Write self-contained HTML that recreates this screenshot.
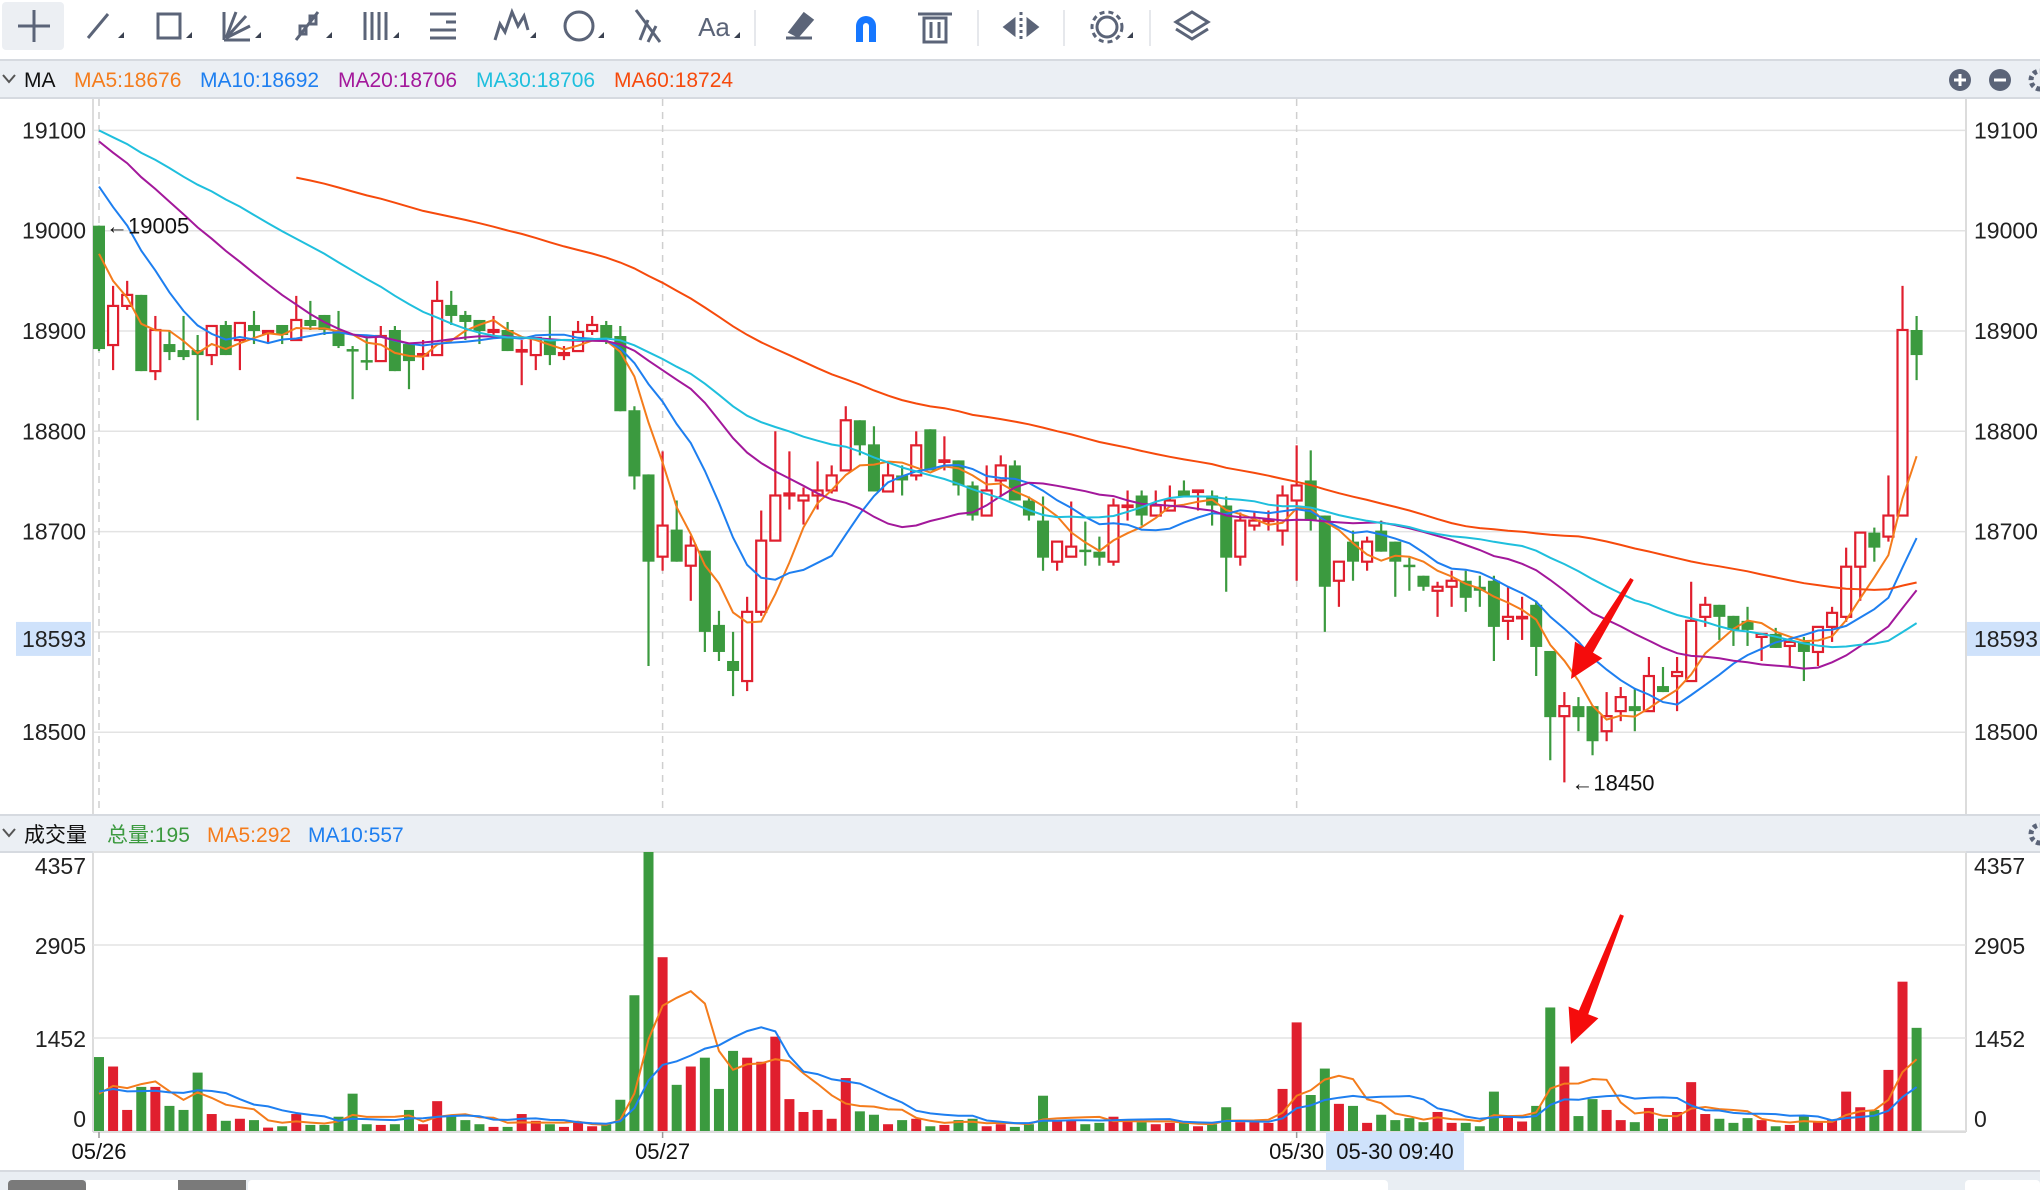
<!DOCTYPE html>
<html><head><meta charset="utf-8">
<style>
html,body{margin:0;padding:0;background:#fff;}
body{width:2040px;height:1190px;overflow:hidden;font-family:"Liberation Sans","Noto Sans CJK SC",sans-serif;}
svg text{font-family:"Liberation Sans","Noto Sans CJK SC",sans-serif;}
</style></head>
<body>
<svg id="chart" width="2040" height="1190" viewBox="0 0 2040 1190" xmlns="http://www.w3.org/2000/svg">
  <g id="toolbar">
    <rect x="0" y="0" width="2040" height="59" fill="#ffffff"/>
    <rect x="2" y="2" width="62" height="48" rx="4" fill="#eceff3"/>
    <g stroke="#5b6478" stroke-width="3" fill="none">
      <g><line x1="34" y1="10" x2="34" y2="42"/><line x1="18" y1="26" x2="50" y2="26"/></g>
      <g><line x1="88" y1="38" x2="108" y2="14"/></g>
      <g><rect x="158" y="14" width="22" height="24"/></g>
      <g><line x1="224" y1="40" x2="250" y2="40"/><line x1="224" y1="40" x2="224" y2="12"/><line x1="226" y1="38" x2="236" y2="12"/><line x1="226" y1="38" x2="246" y2="16"/><line x1="226" y1="38" x2="250" y2="26"/></g>
      <g><line x1="296" y1="40" x2="318" y2="12"/><rect x="300" y="26" width="6" height="8"/><rect x="310" y="16" width="6" height="8"/></g>
      <g><line x1="365" y1="12" x2="365" y2="40"/><line x1="372" y1="12" x2="372" y2="40"/><line x1="379" y1="12" x2="379" y2="40"/><line x1="386" y1="12" x2="386" y2="40"/></g>
      <g><line x1="430" y1="14" x2="456" y2="14"/><line x1="446" y1="22" x2="456" y2="22"/><line x1="430" y1="30" x2="456" y2="30"/><line x1="430" y1="38" x2="456" y2="38"/></g>
      <g><polyline points="495,40 500,24 505,32 512,12 518,26 524,16 528,30"/></g>
      <g><circle cx="579" cy="26" r="14"/></g>
      <g><line x1="636" y1="10" x2="660" y2="42"/><line x1="648" y1="20" x2="640" y2="40"/><line x1="656" y1="26" x2="648" y2="42"/></g>
      <g><line x1="786" y1="38" x2="812" y2="38"/><polygon points="790,32 804,14 812,20 798,36" fill="#5b6478"/></g>
      <g><rect x="924" y="18" width="22" height="24"/><line x1="918" y1="14" x2="952" y2="14"/><line x1="931" y1="22" x2="931" y2="38"/><line x1="939" y1="22" x2="939" y2="38"/></g>
      <g><line x1="1021" y1="12" x2="1021" y2="42" stroke-dasharray="3 3"/><polygon points="1005,27 1014,20 1014,34" fill="#5b6478"/><polygon points="1037,27 1028,20 1028,34" fill="#5b6478"/></g>
      <g><circle cx="1107" cy="27" r="10"/><circle cx="1107" cy="27" r="15" stroke-dasharray="5 4"/></g>
      <g><polygon points="1192,12 1208,22 1192,32 1176,22"/><polyline points="1176,29 1192,39 1208,29"/></g>
    </g>
    <path d="M856 42 V26 a10 10 0 0 1 20 0 V42 h-7 V26 a3 3 0 0 0 -6 0 V42 Z" fill="#1677ff"/>
    <text x="714" y="36" font-size="26" fill="#5b6478" text-anchor="middle">Aa</text>
    <g fill="#3a4150">
      <polygon points="118,38 124,38 124,32"/><polygon points="186,38 192,38 192,32"/><polygon points="255,38 261,38 261,32"/>
      <polygon points="326,38 332,38 332,32"/><polygon points="393,38 399,38 399,32"/><polygon points="530,38 536,38 536,32"/>
      <polygon points="598,38 604,38 604,32"/><polygon points="734,38 740,38 740,32"/><polygon points="1127,38 1133,38 1133,32"/>
    </g>
    <g stroke="#dde0e5" stroke-width="1.5">
      <line x1="755" y1="10" x2="755" y2="46"/><line x1="978" y1="10" x2="978" y2="46"/><line x1="1064" y1="10" x2="1064" y2="46"/><line x1="1150" y1="10" x2="1150" y2="46"/>
    </g>
  </g>

  <g>
    <rect x="0" y="60" width="2040" height="38" fill="#ebeff4"/>
    <line x1="0" y1="60" x2="2040" y2="60" stroke="#d6dae0" stroke-width="2"/>
    <line x1="0" y1="98" x2="2040" y2="98" stroke="#d6dae0" stroke-width="2"/>
    <polyline points="3,75 9,82 15,75" fill="none" stroke="#555" stroke-width="2"/>
    <text x="24" y="87" font-size="21" fill="#111">MA</text>
    <text x="74" y="87" font-size="21" fill="#f47c1c">MA5:18676</text>
    <text x="200" y="87" font-size="21" fill="#1e7ff0">MA10:18692</text>
    <text x="338" y="87" font-size="21" fill="#a3189b">MA20:18706</text>
    <text x="476" y="87" font-size="21" fill="#1fbfdd">MA30:18706</text>
    <text x="614" y="87" font-size="21" fill="#f64a0c">MA60:18724</text>
    <g><circle cx="1960" cy="80" r="11" fill="#5b6478"/><line x1="1954" y1="80" x2="1966" y2="80" stroke="#fff" stroke-width="3"/><line x1="1960" y1="74" x2="1960" y2="86" stroke="#fff" stroke-width="3"/></g>
    <g><circle cx="2000" cy="80" r="11" fill="#5b6478"/><line x1="1994" y1="80" x2="2006" y2="80" stroke="#fff" stroke-width="3"/></g>
    <circle cx="2040" cy="80" r="9" fill="none" stroke="#5b6478" stroke-width="5" stroke-dasharray="4 3"/>
  </g>

  <g id="pricePanel"></g>

  <g>
    <rect x="0" y="815" width="2040" height="37" fill="#ebeff4"/>
    <line x1="0" y1="815" x2="2040" y2="815" stroke="#d6dae0" stroke-width="2"/>
    <line x1="0" y1="852" x2="2040" y2="852" stroke="#d6dae0" stroke-width="2"/>
    <polyline points="3,829 9,836 15,829" fill="none" stroke="#555" stroke-width="2"/>
    <text x="24" y="842" font-size="21" fill="#111">成交量</text>
    <text x="107" y="842" font-size="21" fill="#3c9a3f">总量:195</text>
    <text x="207" y="842" font-size="21" fill="#f47c1c">MA5:292</text>
    <text x="308" y="842" font-size="21" fill="#1e7ff0">MA10:557</text>
    <circle cx="2040" cy="834" r="9" fill="none" stroke="#5b6478" stroke-width="5" stroke-dasharray="4 3"/>
  </g>

  <g id="volPanel"></g>

  <g id="xAxis">
    <rect x="1326" y="1132" width="138" height="38" fill="#cfe2fb"/>
    <text x="1395" y="1159" font-size="22" fill="#111" text-anchor="middle">05-30 09:40</text>
  </g>

  <g>
    <rect x="0" y="1171" width="2040" height="19" fill="#e9eef3"/>
    <line x1="0" y1="1171" x2="2040" y2="1171" stroke="#d6dae0" stroke-width="2"/>
    <rect x="8" y="1180" width="78" height="14" rx="4" fill="#7a7a7a"/>
    <rect x="86" y="1180" width="92" height="14" fill="#ffffff"/>
    <rect x="178" y="1180" width="68" height="14" fill="#7a7a7a"/>
    <rect x="248" y="1180" width="1140" height="14" rx="4" fill="#ffffff"/>
    <rect x="1965" y="1180" width="75" height="14" rx="4" fill="#ffffff"/>
  </g>
</svg>

<script>
var categoriesCount = 130;
var openP  = [19005,18886,18925,18936,18860,18887,18881,18881,18876,18906,18891,18906,18898,18906,18891,18911,18916,18901,18882,18871,18870,18901,18887,18876,18876,18926,18916,18911,18899,18901,18880,18876,18891,18876,18880,18900,18906,18895,18821,18757,18675,18702,18666,18681,18607,18571,18551,18620,18691,18736,18731,18736,18741,18761,18811,18787,18740,18756,18756,18802,18770,18771,18746,18716,18751,18766,18731,18711,18670,18675,18682,18680,18670,18725,18736,18716,18721,18741,18740,18736,18726,18675,18706,18711,18701,18731,18751,18716,18651,18690,18670,18701,18690,18667,18656,18641,18645,18651,18645,18651,18611,18614,18627,18581,18516,18526,18526,18501,18521,18526,18521,18546,18556,18551,18615,18627,18616,18611,18595,18598,18586,18590,18580,18605,18615,18665,18699,18695,18716,18901];
var highP  = [19005,18945,18950,18936,18915,18901,18915,18896,18905,18910,18909,18920,18900,18906,18935,18930,18916,18920,18885,18895,18905,18905,18887,18891,18950,18940,18920,18911,18915,18909,18891,18893,18915,18885,18910,18915,18910,18905,18825,18757,18780,18731,18696,18681,18621,18600,18635,18721,18800,18780,18744,18770,18766,18825,18811,18805,18770,18766,18800,18802,18795,18771,18750,18766,18776,18771,18735,18735,18690,18730,18710,18695,18733,18741,18741,18741,18746,18751,18741,18741,18735,18719,18719,18721,18746,18786,18781,18716,18670,18701,18695,18711,18690,18674,18656,18650,18661,18661,18656,18656,18645,18635,18631,18581,18540,18535,18526,18540,18545,18544,18575,18565,18575,18650,18635,18627,18616,18625,18598,18604,18590,18595,18605,18625,18684,18699,18704,18756,18945,18915];
var lowP   = [18880,18861,18921,18860,18851,18871,18871,18811,18866,18876,18861,18887,18887,18887,18891,18901,18896,18883,18832,18861,18870,18860,18842,18861,18876,18906,18891,18887,18896,18880,18846,18861,18866,18871,18880,18896,18887,18820,18742,18566,18661,18670,18631,18580,18571,18536,18541,18616,18691,18722,18707,18722,18738,18761,18776,18740,18740,18736,18751,18761,18761,18736,18711,18716,18736,18731,18711,18661,18661,18675,18666,18666,18666,18711,18706,18716,18721,18735,18721,18706,18640,18666,18701,18701,18686,18651,18701,18600,18625,18651,18661,18680,18635,18641,18641,18615,18625,18620,18625,18571,18592,18592,18556,18472,18450,18501,18477,18491,18511,18501,18521,18540,18521,18551,18605,18592,18586,18586,18571,18584,18566,18551,18566,18590,18610,18631,18670,18690,18716,18851];
var closeP = [18882,18925,18936,18860,18901,18879,18874,18876,18905,18876,18908,18900,18900,18896,18911,18905,18901,18885,18881,18870,18895,18860,18870,18877,18930,18915,18909,18900,18901,18880,18881,18893,18876,18878,18899,18906,18893,18820,18755,18670,18706,18670,18686,18600,18580,18561,18620,18691,18736,18738,18736,18741,18756,18811,18786,18740,18756,18751,18786,18761,18771,18746,18716,18741,18766,18731,18716,18674,18690,18685,18681,18674,18726,18726,18716,18726,18731,18735,18741,18726,18674,18711,18711,18712,18736,18746,18711,18645,18670,18670,18690,18680,18670,18665,18645,18645,18651,18634,18641,18605,18615,18615,18585,18515,18526,18515,18491,18516,18535,18521,18556,18540,18560,18611,18627,18615,18602,18602,18598,18584,18590,18580,18605,18619,18665,18699,18684,18716,18901,18876];
var priorClose = [19080,19095,19110,19120,19105,19090,19100,19115,19125,19110,19095,19085,19100,19110,19105,19087,19130,19140,19125,19110,19120,19135,19115,19105,19120,19120,19150,19145,19140,19135,19130,19125,19140,19130,19120,19125,19130,19120,19110,19100,19095,19060,19020,18990,18933];
var volume = [1155,1007,329,689,689,392,329,912,265,159,191,170,53,74,265,95,95,223,583,106,95,106,329,106,466,233,170,106,64,64,265,159,106,64,138,74,106,488,2120,4357,2714,721,1007,1145,657,1251,1145,1081,1473,498,297,329,191,827,307,254,106,170,191,74,95,170,191,74,106,64,106,551,159,159,106,127,223,159,138,106,127,127,74,106,371,138,138,127,657,1696,562,975,424,392,127,254,170,201,138,297,127,127,74,615,223,148,392,1929,1007,233,498,329,170,138,360,191,297,763,265,191,127,201,170,74,95,233,138,170,615,371,329,954,2332,1611];
var priorVolume = [600,700,650,640,645,400,500,380,480];
var priceTicks = [19100,19000,18900,18800,18700,18600,18500];
var priceTickLabels = ["19100","19000","18900","18800","18700","","18500"];
var volTicks = [0,1452,2905,4357];
var dateLabels = ["05/26","05/27","05/30"];
var dateIndex = [0,40,85];
var maPeriods = [5,10,20,30,60];
var maColors = ["#f47c1c","#1e7ff0","#a3189b","#1fbfdd","#f64a0c"];
var volMaPeriods = [5,10];
var volMaColors = ["#f47c1c","#1e7ff0"];
var currentPrice = 18593;
var extremeHigh = {i:0, v:19005};
var extremeLow = {i:104, v:18450};

var NS = "http://www.w3.org/2000/svg";
function xAt(i){ return 99 + i*14.09; }
function yP(p){ return 130.4 + (19100 - p)*1.003; }
function yV(v){ return 1131 - v*(279/4357); }
function mk(tag, attrs, parent){
  var e = document.createElementNS(NS, tag);
  for (var k in attrs) e.setAttribute(k, attrs[k]);
  parent.appendChild(e);
  return e;
}
function movingAvg(prior, vals, n){
  var ext = prior.concat(vals), out = [];
  for (var i=0;i<vals.length;i++){
    var end = i + prior.length;
    if (end-n+1 < 0){ out.push(null); continue; }
    var s=0; for (var j=end-n+1;j<=end;j++) s+=ext[j];
    out.push(s/n);
  }
  return out;
}
var RED="#e01f2e", GREEN="#3b9a3f";

var pp = document.getElementById('pricePanel');
var vp = document.getElementById('volPanel');
var xa = document.getElementById('xAxis');

var bg = mk('rect',{x:0,y:99,width:2040,height:716,fill:'#fff'},pp);


var defs = mk('defs',{},pp);
var cp = mk('clipPath',{id:'pclip'},defs);
mk('rect',{x:93,y:99,width:1873,height:715},cp);
var cv = mk('clipPath',{id:'vclip'},defs);
mk('rect',{x:93,y:852,width:1873,height:280},cv);

priceTicks.forEach(function(t,k){
  var g = mk('line',{x1:93,x2:1966,y1:yP(t),y2:yP(t),stroke:'#e3e3e3','stroke-width':1.5},pp);
  
  
  if (priceTickLabels[k]!==""){
    var l = mk('text',{x:86,y:yP(t)+8,'font-size':23,fill:'#222','text-anchor':'end'},pp);
    l.textContent = priceTickLabels[k];
    
    
    var r = mk('text',{x:1974,y:yP(t)+8,'font-size':23,fill:'#222'},pp);
    r.textContent = priceTickLabels[k];
    
    
  }
});
var cpl = mk('rect',{x:16,y:yP(currentPrice)-17,width:75,height:34,fill:'#cfe2fb'},pp);


var cpt = mk('text',{x:86,y:yP(currentPrice)+8,'font-size':23,fill:'#222','text-anchor':'end'},pp);
cpt.textContent = String(currentPrice);


var cpr = mk('rect',{x:1967,y:yP(currentPrice)-17,width:73,height:34,fill:'#cfe2fb'},pp);


var cpt2 = mk('text',{x:1974,y:yP(currentPrice)+8,'font-size':23,fill:'#222'},pp);
cpt2.textContent = String(currentPrice);



[93,1966].forEach(function(x){
  var a = mk('line',{x1:x,x2:x,y1:99,y2:1132,stroke:'#dcdcdc','stroke-width':2},pp);
  
  
});
dateIndex.forEach(function(i){
  var d = mk('line',{x1:xAt(i),x2:xAt(i),y1:99,y2:814,stroke:'#cfcfcf','stroke-width':1.5,'stroke-dasharray':'7 6'},pp);
  
  
});

var cg = mk('g',{'clip-path':'url(#pclip)'},pp);


for (var i=0;i<categoriesCount;i++){
  var up = closeP[i] >= openP[i];
  var col = up ? RED : GREEN;
  var cx = xAt(i);
  var yTop = yP(Math.max(openP[i],closeP[i])), yBot = yP(Math.min(openP[i],closeP[i]));
  var g = mk('g',{},cg);
  
  
  if (up){
    mk('line',{x1:cx,x2:cx,y1:yP(highP[i]),y2:yTop,stroke:col,'stroke-width':2.2},g);
    mk('line',{x1:cx,x2:cx,y1:yBot,y2:yP(lowP[i]),stroke:col,'stroke-width':2.2},g);
    mk('rect',{x:cx-5,y:yTop,width:10,height:Math.max(yBot-yTop,1.5),fill:'#fff',stroke:col,'stroke-width':2.2},g);
  } else {
    mk('line',{x1:cx,x2:cx,y1:yP(highP[i]),y2:yP(lowP[i]),stroke:col,'stroke-width':2.2},g);
    mk('rect',{x:cx-6,y:yTop,width:12,height:Math.max(yBot-yTop,2.5),fill:col},g);
  }
}
maPeriods.forEach(function(n,k){
  var m = movingAvg(priorClose, closeP, n);
  var pts = [];
  m.forEach(function(v,i){ if(v!==null) pts.push(xAt(i).toFixed(1)+','+yP(v).toFixed(1)); });
  var pl = mk('polyline',{points:pts.join(' '),fill:'none',stroke:maColors[k],'stroke-width':2,'clip-path':'url(#pclip)'},pp);
  
  
});
var hm = mk('text',{x:xAt(extremeHigh.i)+7,y:yP(extremeHigh.v)+8,'font-size':22,fill:'#111'},pp);
hm.textContent = '\u2190' + extremeHigh.v;


var lm = mk('text',{x:xAt(extremeLow.i)+7,y:yP(extremeLow.v)+8,'font-size':22,fill:'#111'},pp);
lm.textContent = '\u2190' + extremeLow.v;



function arrow(x1,y1,x2,y2,parent,name){
  var dx=x2-x1, dy=y2-y1, L=Math.sqrt(dx*dx+dy*dy), ux=dx/L, uy=dy/L, nx=-uy, ny=ux;
  var hl=34, hw=16, bx=x2-ux*hl, by=y2-uy*hl;
  var pts=[[x1+nx*2,y1+ny*2],[bx+nx*5,by+ny*5],[bx+nx*hw,by+ny*hw],[x2,y2],[bx-nx*hw,by-ny*hw],[bx-nx*5,by-ny*5],[x1-nx*2,y1-ny*2]];
  var p = mk('polygon',{points:pts.map(function(q){return q[0].toFixed(1)+','+q[1].toFixed(1);}).join(' '),fill:'#f50c0c'},parent);
  
  
}
arrow(1632,579,1571,679,pp,'price-annotation-arrow');

volTicks.forEach(function(t){
  var g = mk('line',{x1:93,x2:1966,y1:yV(t),y2:yV(t),stroke:'#e3e3e3','stroke-width':1.5},vp);
  
  
  var ly = t===volTicks[volTicks.length-1] ? yV(t)+22 : (t===0 ? yV(t)-4 : yV(t)+9);
  var l = mk('text',{x:86,y:ly,'font-size':23,fill:'#222','text-anchor':'end'},vp);
  l.textContent = String(t);
  
  
  var r = mk('text',{x:1974,y:ly,'font-size':23,fill:'#222'},vp);
  r.textContent = String(t);
  
  
});
var vg = mk('g',{'clip-path':'url(#vclip)'},vp);


for (var j=0;j<categoriesCount;j++){
  var upv = closeP[j] >= openP[j];
  var b = mk('rect',{x:xAt(j)-5,y:yV(volume[j]),width:10,height:yV(0)-yV(volume[j]),fill:upv?RED:GREEN},vg);
  
  
}
volMaPeriods.forEach(function(n,k){
  var m = movingAvg(priorVolume, volume, n);
  var pts = [];
  m.forEach(function(v,i){ if(v!==null) pts.push(xAt(i).toFixed(1)+','+yV(v).toFixed(1)); });
  var pl = mk('polyline',{points:pts.join(' '),fill:'none',stroke:volMaColors[k],'stroke-width':2,'clip-path':'url(#vclip)'},vp);
  
  
});
var bl = mk('line',{x1:93,x2:1966,y1:1132,y2:1132,stroke:'#dcdcdc','stroke-width':2},vp);


arrow(1622,915,1571,1044,vp,'volume-annotation-arrow');

dateLabels.forEach(function(s,k){
  var t = mk('line',{x1:xAt(dateIndex[k]),x2:xAt(dateIndex[k]),y1:1132,y2:1138,stroke:'#999','stroke-width':1.5},xa);
  
  
  var l = mk('text',{x:xAt(dateIndex[k]),y:1159,'font-size':22,fill:'#111','text-anchor':'middle'},xa);
  l.textContent = s;
  
  
});
</script>
</body></html>
